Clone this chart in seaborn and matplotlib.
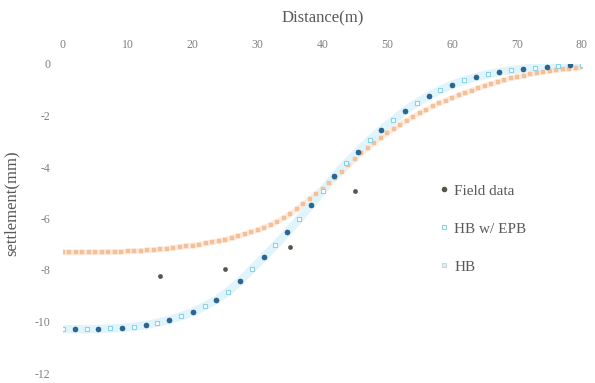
import matplotlib
matplotlib.use('Agg')
import matplotlib.pyplot as plt
import seaborn as sns
from matplotlib.lines import Line2D

# ---------------- data ----------------
field_x = [15, 25, 35, 45]
field_y = [-8.25, -7.95, -7.12, -4.93]

epb_x = [0.00, 1.82, 3.64, 5.45, 7.27, 9.09, 10.91, 12.73, 14.55, 16.36,
         18.18, 20.00, 21.82, 23.64, 25.45, 27.27, 29.09, 30.91, 32.73, 34.55,
         36.36, 38.18, 40.00, 41.82, 43.64, 45.45, 47.27, 49.09, 50.91, 52.73,
         54.55, 56.36, 58.18, 60.00, 61.82, 63.64, 65.45, 67.27, 69.09, 70.91,
         72.73, 74.55, 76.36, 78.18, 80.00]
epb_y = [-10.30, -10.30, -10.30, -10.29, -10.27, -10.25, -10.20, -10.14, -10.05, -9.94,
         -9.80, -9.63, -9.41, -9.16, -8.84, -8.44, -7.97, -7.51, -7.04, -6.54,
         -6.03, -5.49, -4.92, -4.36, -3.86, -3.40, -2.95, -2.55, -2.18, -1.81,
         -1.50, -1.24, -1.00, -0.80, -0.64, -0.51, -0.40, -0.31, -0.24, -0.18,
         -0.14, -0.10, -0.07, -0.04, -0.02]

hb_x = [0, 1, 2, 3, 4, 5, 6, 7, 8, 9, 10, 11, 12, 13, 14, 15, 16, 17, 18, 19,
        20, 21, 22, 23, 24, 25, 26, 27, 28, 29, 30, 31, 32, 33, 34, 35, 36, 37, 38, 39,
        40, 41, 42, 43, 44, 45, 46, 47, 48, 49, 50, 51, 52, 53, 54, 55, 56, 57, 58, 59,
        60, 61, 62, 63, 64, 65, 66, 67, 68, 69, 70, 71, 72, 73, 74, 75, 76, 77, 78, 79, 80]
hb_y = [-7.32, -7.32, -7.32, -7.32, -7.31, -7.31, -7.31, -7.30, -7.30, -7.29,
        -7.28, -7.27, -7.26, -7.24, -7.22, -7.20, -7.17, -7.14, -7.11, -7.08,
        -7.05, -7.01, -6.97, -6.93, -6.88, -6.82, -6.76, -6.69, -6.61, -6.53,
        -6.45, -6.35, -6.24, -6.12, -5.98, -5.83, -5.65, -5.45, -5.25, -5.05,
        -4.85, -4.63, -4.41, -4.18, -3.94, -3.70, -3.46, -3.25, -3.05, -2.86,
        -2.68, -2.51, -2.35, -2.20, -2.05, -1.91, -1.78, -1.65, -1.53, -1.42,
        -1.32, -1.22, -1.12, -1.03, -0.94, -0.85, -0.77, -0.70, -0.63, -0.56,
        -0.50, -0.45, -0.40, -0.35, -0.31, -0.27, -0.24, -0.21, -0.18, -0.15, -0.13]

x_ticks = [0, 10, 20, 30, 40, 50, 60, 70, 80]
y_ticks = [0, -2, -4, -6, -8, -10, -12]
labels = ['Field data', 'HB w/ EPB', 'HB']

# ---------------- style ----------------
sns.set_theme(style='white')
plt.rcParams['font.family'] = ['Liberation Serif', 'DejaVu Serif']
plt.rcParams['axes.unicode_minus'] = False

dark_blue = '#2a6796'
light_blue = '#8ad2e8'
halo_blue = '#e0f4fb'
orange = '#f5c098'
halo_orange = '#fcecdf'
field_col = '#55554a'
text_col = '#595959'
tick_col = '#808080'

fig = plt.figure(figsize=(5.95, 3.83), dpi=100)
ax = fig.add_axes([63 / 595, 1 - 373 / 383, 519 / 595, 309 / 383])

# soft halos around curves
ax.plot(hb_x, hb_y, color=halo_orange, lw=4, zorder=1, solid_capstyle='round')
ax.plot(epb_x, epb_y, color=halo_blue, lw=6, zorder=1, solid_capstyle='round')

# HB (orange dense small markers)
sns.scatterplot(x=hb_x, y=hb_y, marker='s', s=5, color=orange, edgecolor=orange,
                linewidth=0.3, ax=ax, zorder=3)

# HB w/ EPB: light open squares + dark filled circles alternating
ex_light = epb_x[0::2]
ey_light = epb_y[0::2]
ex_dark = epb_x[1::2]
ey_dark = epb_y[1::2]
sns.scatterplot(x=ex_light, y=ey_light, marker='s', s=9, facecolor='white',
                edgecolor=light_blue, linewidth=0.8, ax=ax, zorder=4)
sns.scatterplot(x=ex_dark, y=ey_dark, marker='o', s=13, color=dark_blue,
                edgecolor='#1d4f78', linewidth=0.4, ax=ax, zorder=5)

# Field data
sns.scatterplot(x=field_x, y=field_y, marker='o', s=10, color=field_col,
                edgecolor=field_col, ax=ax, zorder=6)

ax.set_xlim(0, 80)
ax.set_ylim(-12, 0)
ax.xaxis.tick_top()
ax.xaxis.set_label_position('top')
ax.set_xticks(x_ticks)
ax.set_xticklabels([str(v) for v in x_ticks])
ax.set_yticks(y_ticks)
ax.set_yticklabels([str(v) for v in y_ticks])
ax.tick_params(axis='x', length=0, pad=9, labelsize=8.5, colors=tick_col)
ax.tick_params(axis='y', length=0, pad=9, labelsize=8.5, colors=tick_col)
for sp in ax.spines.values():
    sp.set_visible(False)

ax.set_xlabel('Distance(m)', fontsize=12, color=text_col, labelpad=12)
ax.set_ylabel('settlement(mm)', fontsize=12, color=text_col)
ax.yaxis.set_label_coords(-0.083, 0.55)

handles = [
    Line2D([], [], ls='none', marker='o', ms=3.0, color=field_col),
    Line2D([], [], ls='none', marker='s', ms=2.8, mfc='white', mec=light_blue, mew=0.8),
    Line2D([], [], ls='none', marker='s', ms=2.8, mfc='#fde9d9', mec='#b8d9e8', mew=0.8),
]
leg = fig.legend(handles, labels, loc='upper left', bbox_to_anchor=(0.738, 0.52),
                 bbox_transform=fig.transFigure, frameon=False, fontsize=11,
                 handlelength=0.6, handletextpad=0.4, labelspacing=1.6,
                 borderpad=0, borderaxespad=0)
for t in leg.get_texts():
    t.set_color(text_col)

fig.savefig('out.png', dpi=100, facecolor='white')
